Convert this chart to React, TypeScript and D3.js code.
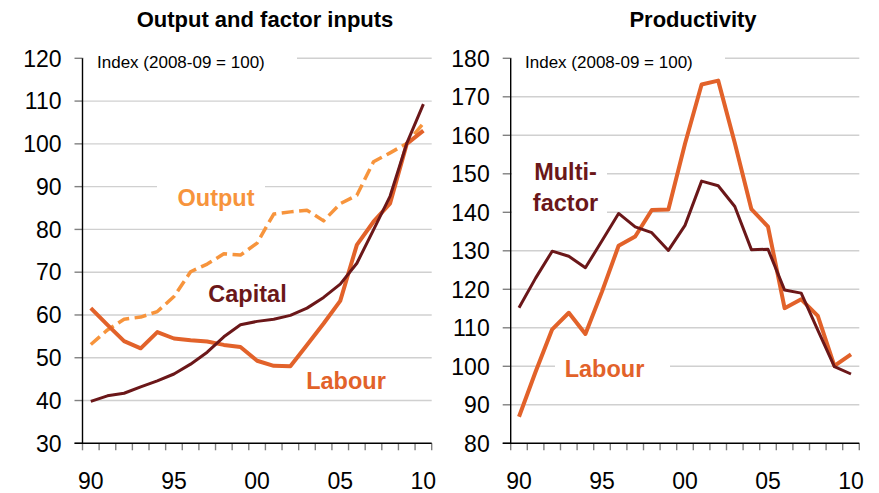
import React, { useRef, useEffect } from 'react';
import * as d3 from 'd3';

// Financial years, labelled by the starting year
const years = [1990, 1991, 1992, 1993, 1994, 1995, 1996, 1997, 1998, 1999, 2000,
  2001, 2002, 2003, 2004, 2005, 2006, 2007, 2008, 2009, 2010];
const yearLabels = { 1990: '90', 1995: '95', 2000: '00', 2005: '05', 2010: '10' };

// Output and factor inputs, index (2008-09 = 100)
const outputIdx = [53.1, 56.5, 59.0, 59.5, 60.8, 64.3, 70.1, 71.9, 74.3, 74.0, 76.8,
  83.6, 84.1, 84.5, 82.0, 86.0, 88.0, 95.8, 97.9, 100.1, 104.8];
const capitalIdx = [39.8, 41.1, 41.7, 43.2, 44.6, 46.2, 48.5, 51.3, 54.9, 57.7, 58.5,
  59.0, 59.9, 61.6, 64.1, 67.2, 72.1, 79.9, 87.8, 100.1, 109.3];
const labourIdx = [61.6, 57.7, 53.9, 52.2, 56.0, 54.5, 54.1, 53.8, 53.0, 52.5, 49.3,
  48.1, 48.0, 53.0, 58.0, 63.3, 76.4, 81.8, 86.1, 100.0, 103.1];

// Productivity, index (2008-09 = 100)
const labourProd = [86.9, 98.6, 109.6, 113.9, 108.4, 119.4, 131.3, 133.7, 140.6, 140.7, 157.8,
  173.2, 174.2, 158.0, 140.8, 136.3, 115.1, 117.4, 113.1, 100.1, 103.1];
const multifactorProd = [115.2, 122.9, 129.9, 128.6, 125.6, 132.6, 139.7, 136.2, 134.7, 130.1, 136.6,
  148.1, 146.9, 141.5, 130.3, 130.4, 119.8, 119.0, 109.4, 99.9, 98.0];

const COLORS = {
  labour: '#E2622A',
  output: '#F7943C',
  capital: '#6B1719',
  grid: '#D0D0D0',
  tick: '#808080',
};
const FONT = '"Liberation Sans", Arial, Helvetica, sans-serif';

const panels = [
  {
    title: 'Output and factor inputs',
    titleX: 265,
    left: 82.5, right: 431.7,
    domain: [30, 120],
    series: [
      { values: outputIdx, color: COLORS.output, width: 3.5, dash: '12,5.5' },
      { values: labourIdx, color: COLORS.labour, width: 4 },
      { values: capitalIdx, color: COLORS.capital, width: 3 },
    ],
    indexX: 97, indexBoxRight: 297,
    labels: [
      { lines: ['Output'], x: 216, y: 206, color: COLORS.output, box: [157, 184, 108, 28] },
      { lines: ['Capital'], x: 247.5, y: 301.7, color: COLORS.capital },
      { lines: ['Labour'], x: 346, y: 389.3, color: COLORS.labour },
    ],
  },
  {
    title: 'Productivity',
    titleX: 693,
    left: 510.7, right: 859.3,
    domain: [80, 180],
    series: [
      { values: labourProd, color: COLORS.labour, width: 4 },
      { values: multifactorProd, color: COLORS.capital, width: 3 },
    ],
    indexX: 525, indexBoxRight: 725,
    labels: [
      { lines: ['Multi-', 'factor'], x: 565.5, y: 180, color: COLORS.capital, box: [512, 152, 95, 66] },
      { lines: ['Labour'], x: 604.5, y: 376.7, color: COLORS.labour, box: [555, 362, 115, 24] },
    ],
  },
];

const TOP = 58.3;
const BOTTOM = 443.3;

const App = () => {
  const svgRef = useRef(null);

  useEffect(() => {
    const svg = d3.select(svgRef.current);
    svg.selectAll('*').remove();

    panels.forEach(p => {
      const g = svg.append('g');

      const x = d3.scaleBand()
        .domain(years)
        .range([p.left, p.right])
        .padding(0);
      const cx = d => x(d) + x.bandwidth() / 2;

      const y = d3.scaleLinear()
        .domain(p.domain)
        .range([BOTTOM, TOP]);

      const yTicks = d3.range(p.domain[0], p.domain[1] + 1, 10);

      // gridlines
      g.append('g')
        .selectAll('line')
        .data(yTicks.filter(t => t !== p.domain[0]))
        .enter()
        .append('line')
        .attr('x1', p.left)
        .attr('x2', p.right)
        .attr('y1', d => y(d))
        .attr('y2', d => y(d))
        .attr('stroke', COLORS.grid)
        .attr('stroke-width', 1.4);

      // white boxes behind labels that break the gridlines
      g.append('rect')
        .attr('x', p.left + 1)
        .attr('y', TOP - 10)
        .attr('width', p.indexBoxRight - p.left - 1)
        .attr('height', 22)
        .attr('fill', '#fff');
      p.labels.filter(l => l.box).forEach(l => {
        g.append('rect')
          .attr('x', l.box[0])
          .attr('y', l.box[1])
          .attr('width', l.box[2])
          .attr('height', l.box[3])
          .attr('fill', '#fff');
      });

      // y axis ticks and labels
      g.append('g')
        .selectAll('line')
        .data(yTicks)
        .enter()
        .append('line')
        .attr('x1', p.left - 8)
        .attr('x2', p.left)
        .attr('y1', d => y(d))
        .attr('y2', d => y(d))
        .attr('stroke', COLORS.tick)
        .attr('stroke-width', 1.4);

      g.append('g')
        .selectAll('text')
        .data(yTicks)
        .enter()
        .append('text')
        .attr('x', p.left - 21)
        .attr('y', d => y(d))
        .attr('dy', '0.36em')
        .attr('text-anchor', 'end')
        .attr('font-family', FONT)
        .attr('font-size', 23)
        .attr('fill', '#000')
        .text(d => d);

      // x axis ticks at band edges
      const edges = years.map(d => x(d)).concat([p.right]);
      g.append('g')
        .selectAll('line')
        .data(edges)
        .enter()
        .append('line')
        .attr('x1', d => d)
        .attr('x2', d => d)
        .attr('y1', BOTTOM)
        .attr('y2', BOTTOM + 7)
        .attr('stroke', COLORS.tick)
        .attr('stroke-width', 1.4);

      g.append('g')
        .selectAll('text')
        .data(years.filter(d => yearLabels[d]))
        .enter()
        .append('text')
        .attr('x', d => cx(d))
        .attr('y', 489)
        .attr('text-anchor', 'middle')
        .attr('font-family', FONT)
        .attr('font-size', 23)
        .attr('fill', '#000')
        .text(d => yearLabels[d]);

      // axis lines
      g.append('line')
        .attr('x1', p.left).attr('x2', p.left)
        .attr('y1', TOP).attr('y2', BOTTOM)
        .attr('stroke', '#000').attr('stroke-width', 1.4);
      g.append('line')
        .attr('x1', p.left - 8).attr('x2', p.right)
        .attr('y1', BOTTOM).attr('y2', BOTTOM)
        .attr('stroke', '#000').attr('stroke-width', 1.4);

      // series lines
      const line = d3.line()
        .x((d, i) => cx(years[i]))
        .y(d => y(d));

      p.series.forEach(s => {
        g.append('path')
          .datum(s.values)
          .attr('fill', 'none')
          .attr('stroke', s.color)
          .attr('stroke-width', s.width)
          .attr('stroke-linejoin', 'round')
          .attr('stroke-dasharray', s.dash || null)
          .attr('d', line);
      });

      // titles and labels
      g.append('text')
        .attr('x', p.titleX)
        .attr('y', 27)
        .attr('text-anchor', 'middle')
        .attr('font-family', FONT)
        .attr('font-weight', 'bold')
        .attr('font-size', 22)
        .attr('fill', '#000')
        .text(p.title);

      g.append('text')
        .attr('x', p.indexX)
        .attr('y', 68.3)
        .attr('font-family', FONT)
        .attr('font-size', 17)
        .attr('fill', '#000')
        .text('Index (2008-09 = 100)');

      p.labels.forEach(l => {
        const t = g.append('text')
          .attr('x', l.x)
          .attr('y', l.y)
          .attr('text-anchor', 'middle')
          .attr('font-family', FONT)
          .attr('font-weight', 'bold')
          .attr('font-size', 23.5)
          .attr('fill', l.color);
        l.lines.forEach((txt, i) => {
          t.append('tspan')
            .attr('x', l.x)
            .attr('dy', i === 0 ? 0 : 30.7)
            .text(txt);
        });
      });
    });
  }, []);

  return (
    <svg
      ref={svgRef}
      width={879}
      height={493}
      style={{ position: 'absolute', left: 0, top: 0, background: '#fff' }}
    />
  );
};

export default App;
